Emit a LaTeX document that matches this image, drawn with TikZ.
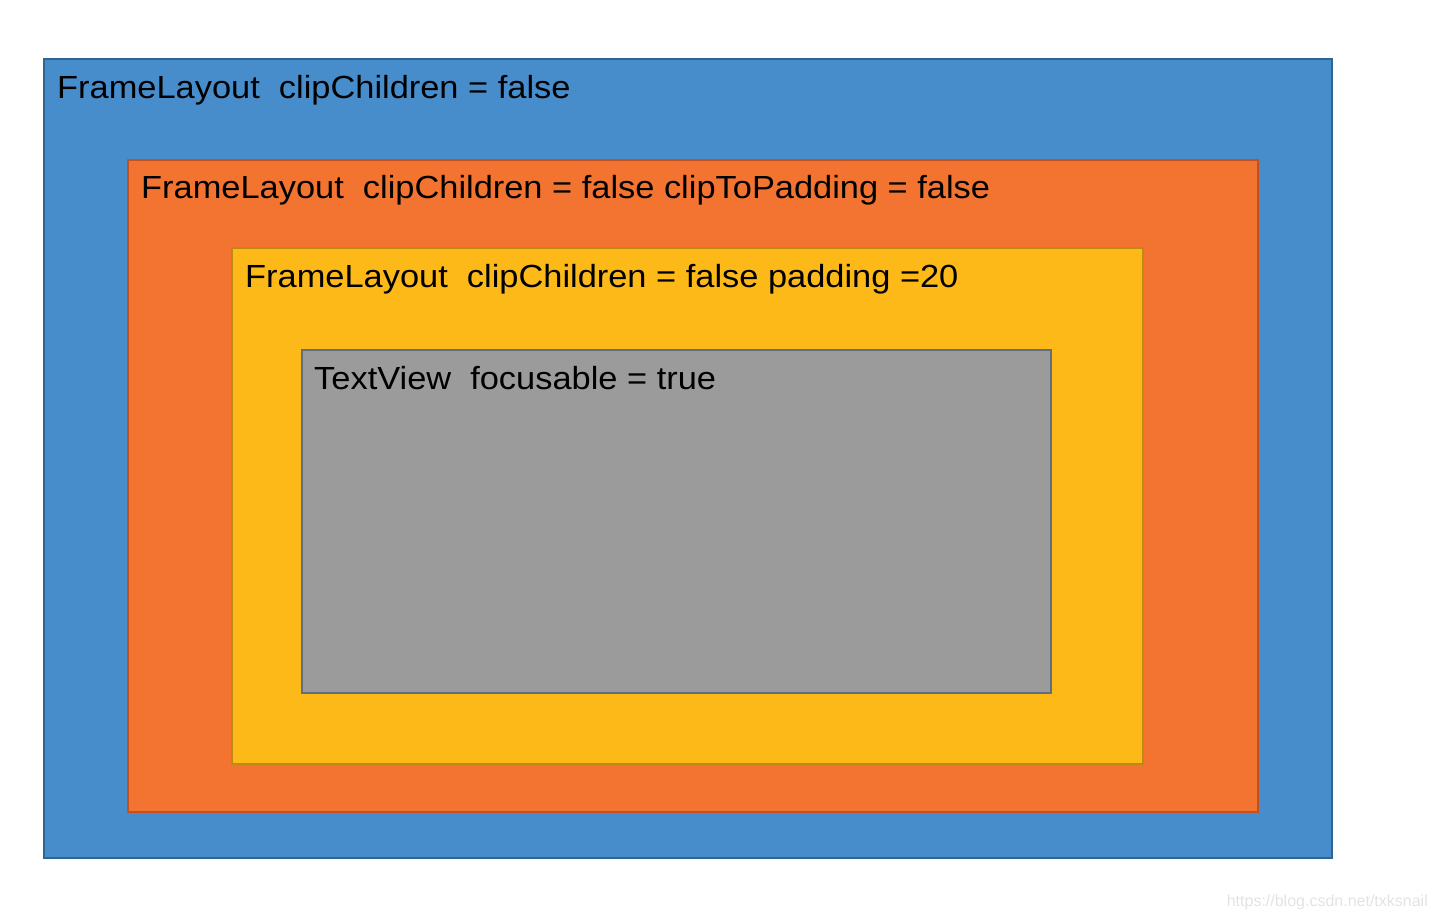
\documentclass[tikz,border=0pt]{standalone}
\usepackage{fontspec}
\setmainfont{Liberation Sans}
\newfontfamily\widesans{Liberation Sans}[FakeStretch=1.075]
\usetikzlibrary{positioning}
\definecolor{layblue}{HTML}{478DCC}
\definecolor{layblueline}{HTML}{2F6593}
\definecolor{layorange}{HTML}{F37430}
\definecolor{layorangeline}{HTML}{C5501F}
\definecolor{layyellow}{HTML}{FDB918}
\definecolor{layyellowline}{HTML}{BF8A10}
\definecolor{laygray}{HTML}{9B9B9B}
\definecolor{laygrayline}{HTML}{5F6F80}
\tikzset{
  vframe/.style={rectangle,anchor=north west,line width=2pt,inner sep=0pt},
  vlabel/.style={anchor=base west,inner sep=0pt,font=\widesans\fontsize{32}{38}\selectfont},
  vmark/.style={anchor=base east,inner sep=0pt,text=black!11,font=\fontsize{16}{19}\selectfont}
}
\begin{document}
\begin{tikzpicture}[x=1pt,y=-1pt]
  \useasboundingbox (0,0) rectangle (1438,918);
  % nested layouts, outermost first
  \node[vframe,draw=layblueline,fill=layblue,minimum width=1288pt,minimum height=799pt] (outer) at (43,58) {};
  \node[vframe,draw=layorangeline,fill=layorange,minimum width=1130pt,minimum height=652pt] (middle) at (127,159) {};
  \node[vframe,draw=layyellowline,fill=layyellow,minimum width=911pt,minimum height=516pt] (inner) at (231,247) {};
  \node[vframe,draw=laygrayline,fill=laygray,minimum width=749pt,minimum height=343pt] (text) at (301,349) {};
  % captions
  \node[vlabel] (outerlbl) at (57,98) {FrameLayout\ \ clipChildren = false};
  \node[vlabel] (middlelbl) at (141,198) {FrameLayout\ \ clipChildren = false clipToPadding = false};
  \node[vlabel] (innerlbl) at (245,287) {FrameLayout\ \ clipChildren = false padding =20};
  \node[vlabel] (textlbl) at (314,389) {TextView\ \ focusable = true};
  \node[vmark] (mark) at (1428,906) {https://blog.csdn.net/txksnail};
\end{tikzpicture}
\end{document}
